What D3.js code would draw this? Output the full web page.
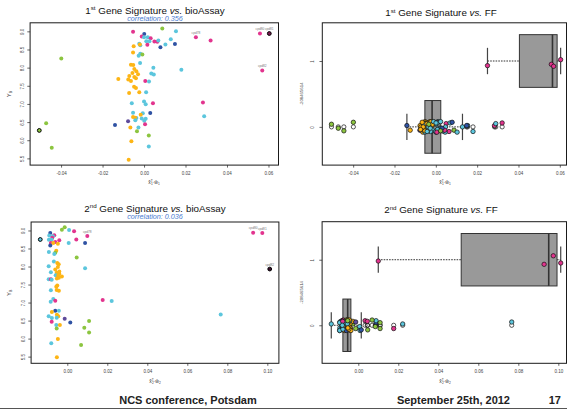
<!DOCTYPE html>
<html><head><meta charset="utf-8">
<script src="https://cdn.jsdelivr.net/npm/d3@7"></script>
<style>body{margin:0;background:#fff}svg{display:block}</style>
</head><body>
<svg id="c" width="567" height="409"></svg>
<script>
// ---------------- DATA ----------------
const bioAssay1 = [8.99,9.08,9.00,8.93,8.86,8.84,8.84,8.81,8.78,8.73,8.73,8.72,8.71,8.75,8.63,8.65,8.64,8.56,8.59,8.66,8.62,8.64,8.42,8.38,8.36,8.33,8.13,8.08,8.07,8.00,7.96,7.90,7.85,7.84,7.81,7.82,7.77,7.74,7.94,7.71,7.69,7.67,7.63,7.63,7.62,7.47,7.44,7.30,7.32,7.32,7.02,7.07,6.99,7.02,7.04,6.76,6.74,6.75,6.70,6.64,6.61,6.60,6.59,6.62,6.55,6.54,6.52,6.42,6.44,6.35,6.35,6.25,6.13,5.97,5.83,5.46,6.66,8.84,8.75,8.94,8.94,7.92,8.25,6.47,6.27,5.79];
const sig1Score = [-0.0053,0.0088,0.0154,0.0001,-0.0011,0.0018,0.0000,0.0032,0.0129,0.0011,0.0026,0.0050,0.0064,0.0069,0.0016,0.0149,0.0103,0.0079,-0.0050,-0.0023,-0.0018,-0.0020,-0.0053,-0.0018,-0.0008,-0.0026,-0.0019,-0.0063,-0.0052,0.0045,-0.0047,-0.0037,-0.0056,0.0035,0.0047,-0.0029,-0.0071,-0.0047,0.0180,-0.0039,-0.0124,-0.0076,-0.0063,0.0006,0.0024,-0.0048,-0.0039,-0.0072,-0.0023,0.0010,-0.0059,0.0000,0.0008,0.0043,0.0284,-0.0053,-0.0006,0.0030,-0.0016,-0.0053,-0.0037,-0.0011,0.0008,-0.0043,-0.0042,0.0001,-0.0077,-0.0140,0.0005,-0.0066,-0.0027,-0.0034,0.0023,-0.0061,0.0023,-0.0074,0.0290,0.0250,0.0321,0.0559,0.0604,0.0570,-0.0399,-0.0472,-0.0505,-0.0445];
const sig1Class = ["M","G","C","B","M","C","C","M","C","C","C","M","M","C","M","B","C","B","O","C","C","O","O","C","G","C","C","O","O","C","O","O","O","C","C","O","O","O","C","O","O","O","O","M","C","O","O","O","O","C","C","C","C","M","M","C","C","B","O","O","C","C","C","O","C","C","P","B","M","O","C","G","G","O","C","O","C","M","M","M","M","M","G","G","G","G"];
const sig1FF = sig1Score.map((_, i) => [77,79,80,81].includes(i) ? 1 : 0);
const sig1LabelIdx = [77,79,80,81];
const sig1LabelText = ["cpd78","cpd80","cpd81","cpd82"];
const sig1OutlineIdx = [80,84];
const sig1OutlineFill = ["#7A1850","#8CC540"];

const bioAssay2 = [8.93,9.09,9.02,9.01,8.98,8.85,8.87,8.86,8.84,8.80,8.74,8.74,8.73,8.75,8.68,8.65,8.65,8.63,8.65,8.65,8.58,8.44,8.38,8.35,8.40,8.25,8.14,8.10,8.06,8.01,7.95,7.99,7.92,7.86,7.84,7.83,7.80,7.76,7.75,7.72,7.67,7.69,7.65,7.65,7.63,7.47,7.44,7.34,7.35,7.33,7.10,7.05,7.02,7.07,7.04,6.77,6.77,6.74,6.62,6.57,6.66,6.62,6.58,6.55,6.45,6.47,6.49,6.38,6.38,6.28,6.30,6.17,5.99,5.87,5.82,5.48,6.67,8.94,8.93,7.93,8.75];
const sig2Score = [-0.0085,-0.0013,-0.0027,0.0009,0.0034,0.0100,-0.0065,-0.0090,-0.0072,-0.0075,-0.0092,-0.0078,-0.0040,0.0045,-0.0060,-0.0082,-0.0070,-0.0047,0.0007,0.0089,-0.0085,-0.0055,-0.0060,-0.0065,-0.0092,0.0047,-0.0067,-0.0050,-0.0043,-0.0093,0.0089,-0.0047,-0.0060,-0.0040,-0.0082,-0.0053,-0.0040,-0.0058,-0.0045,-0.0027,-0.0052,-0.0042,-0.0093,-0.0082,-0.0078,-0.0050,-0.0055,-0.0082,-0.0053,-0.0042,-0.0070,-0.0060,-0.0083,0.0177,0.0222,-0.0060,-0.0042,-0.0077,-0.0093,-0.0077,-0.0052,-0.0045,-0.0053,-0.0013,0.0015,-0.0078,0.0109,-0.0055,-0.0037,-0.0053,0.0085,0.0109,-0.0047,-0.0080,0.0069,-0.0052,0.0767,0.0929,0.0975,0.1012,-0.0135];
const sig2Class = ["B","G","G","C","M","M","M","C","C","M","C","C","M","M","M","M","O","O","C","B","B","O","G","C","C","G","C","O","O","C","C","O","O","O","C","O","O","C","O","O","O","O","C","M","C","O","O","C","O","O","C","M","C","M","C","B","C","O","C","C","O","O","C","P","B","M","G","C","O","G","G","G","O","C","G","O","C","M","M","M","C"];
const sig2FF = sig2Score.map((_, i) => [5,77,78,79].includes(i) ? 1 : 0);
const sig2LabelIdx = [5,77,78,79];
const sig2LabelText = ["cpd78","cpd80","cpd81","cpd82"];
const sig2OutlineIdx = [79,80];
const sig2OutlineFill = ["#3A0F2C","#5CC6DD"];

const corr1 = "correlation: 0.356";
const corr2 = "correlation: 0.036";
const sig1Ticks = [-0.04,-0.02,0,0.02,0.04,0.06];
const sig1TickLabels = ["-0.04","-0.02","0.00","0.02","0.04","0.06"];
const sig2Ticks = [0,0.02,0.04,0.06,0.08,0.10];
const sig2TickLabels = ["0.00","0.02","0.04","0.06","0.08","0.10"];
const yTicks = [5.5,6.0,6.5,7.0,7.5,8.0,8.5,9.0];
const yTickLabels = ["5.5","6.0","6.5","7.0","7.5","8.0","8.5","9.0"];
const ffTicks = [0,1];
const ffTickLabels = ["0","1"];
const ffLabel = "-208465614";

// ---------------- STYLE ----------------
const FONT = "'Liberation Sans', Arial, Helvetica, sans-serif";
const colorMap = {O:"#FDB515", C:"#5CC6DD", M:"#E2348E", B:"#2F52A3", G:"#8CC540", P:"#5F4B9B"};
const jitterPattern = [0.06,-0.05,0.02,-0.08,0.07,-0.02,0.04,-0.06,0.0,0.08,-0.04,0.05,-0.07];
const svg = d3.select("#c");

const P1 = {x0:30.1, x1:278.5, y0:22.8, y1:165.1, boxR:278.5};
const P2 = {x0:322.3, x1:569.8, y0:22.8, y1:165.1, boxR:566.5};
const P3 = {x0:31.1, x1:278.9, y0:222, y1:363.3, boxR:278.9};
const P4 = {x0:322.1, x1:569.9, y0:221.7, y1:363.3, boxR:566.5};

function padExt(v){ const e = d3.extent(v); const d=(e[1]-e[0])*0.04; return [e[0]-d, e[1]+d]; }

function drawTitle(cx, y, num, sup, target){
  const t = svg.append("text").attr("x",cx).attr("y",y).attr("text-anchor","middle")
    .attr("font-family",FONT).attr("font-size",9.8).attr("fill","#111");
  t.append("tspan").text(num);
  t.append("tspan").attr("font-size",6.2).attr("dy",-3.5).text(sup);
  t.append("tspan").attr("dy",3.5).text(" Gene Signature ");
  t.append("tspan").attr("font-style","italic").text("vs.");
  t.append("tspan").text(" " + target);
}
function drawCorr(cx, y, txt){
  svg.append("text").attr("x",cx).attr("y",y).attr("text-anchor","middle").attr("font-family",FONT)
    .attr("font-size",7.2).attr("font-style","italic").attr("fill","#4A7BD0").text(txt);
}
function drawXLabel(cx, y, k){
  const t = svg.append("text").attr("x",cx).attr("y",y).attr("text-anchor","middle")
    .attr("font-family",FONT).attr("font-size",5).attr("fill","#333");
  t.append("tspan").text("x\u0302");
  t.append("tspan").attr("font-size",3.2).attr("dy",-1.8).text("T");
  t.append("tspan").attr("font-size",3.2).attr("dx",-1.8).attr("dy",3.2).text(k);
  t.append("tspan").attr("dy",-1.4).text("\u00B7\u0175");
  t.append("tspan").attr("font-size",3.2).attr("dy",1.2).text(k);
}
function frame(p){
  svg.append("rect").attr("x",p.x0).attr("y",p.y0).attr("width",p.boxR-p.x0).attr("height",p.y1-p.y0)
    .attr("fill","none").attr("stroke","#1a1a1a").attr("stroke-width",1);
}
function xAxis(p, x, ticks, labels){
  const g = svg.append("g").attr("transform",`translate(0,${p.y1})`)
    .call(d3.axisBottom(x).tickValues(ticks).tickFormat((d,i)=>labels[i]).tickSize(2.5).tickPadding(4.2));
  g.select(".domain").remove();
  g.selectAll("line").attr("stroke","#222").attr("stroke-width",0.7);
  g.selectAll("text").attr("font-family",FONT).attr("font-size",4.5).attr("fill","#444");
}
function yAxis(p, y, ticks, labels, off){
  const g = svg.append("g").attr("transform",`translate(${p.x0},0)`)
    .call(d3.axisLeft(y).tickValues(ticks).tickFormat((d,i)=>labels[i]).tickSize(2.8));
  g.select(".domain").remove();
  g.selectAll("line").attr("stroke","#222").attr("stroke-width",0.7);
  g.selectAll("text").attr("font-family",FONT).attr("font-size",4.5).attr("fill","#444")
    .attr("transform","rotate(-90)").attr("x",0).attr("y",-off).attr("dy",0).attr("text-anchor","middle");
}

function scatter(p, xs, ys, cls, labelIdx, labelText, outlineIdx, outlineFill, xTicks, xLabels){
  const x = d3.scaleLinear().domain(padExt(xs)).range([p.x0, p.x1]);
  const y = d3.scaleLinear().domain(padExt(bioAssay1.concat(bioAssay2))).range([p.y1, p.y0]);
  frame(p);
  xAxis(p, x, xTicks, xLabels);
  yAxis(p, y, yTicks, yTickLabels, 5.8);
  const idx = d3.range(xs.length);
  svg.append("g").selectAll("circle").data(idx.filter(i=>!outlineIdx.includes(i))).join("circle")
    .attr("cx",i=>x(xs[i])).attr("cy",i=>y(ys[i])).attr("r",2).attr("fill",i=>colorMap[cls[i]]);
  svg.append("g").selectAll("circle").data(outlineIdx).join("circle")
    .attr("cx",i=>x(xs[i])).attr("cy",i=>y(ys[i])).attr("r",1.9).attr("fill",(d,k)=>outlineFill[k])
    .attr("stroke","#000").attr("stroke-width",1);
  svg.append("g").selectAll("text").data(labelIdx).join("text")
    .attr("x",i=>x(xs[i])).attr("y",i=>y(ys[i])-3.3).attr("text-anchor","middle")
    .attr("font-family",FONT).attr("font-size",3.2).attr("fill","#777").text((d,k)=>labelText[k]);
  const yl = svg.append("text").attr("transform",`translate(11,${(p.y0+p.y1)/2}) rotate(-90)`)
    .attr("text-anchor","middle").attr("font-family",FONT).attr("font-size",5.5).attr("fill","#333");
  yl.append("tspan").text("Y");
  yl.append("tspan").attr("font-size",3.6).attr("dy",1.4).text("B");
}

function fivenum(v){
  const s = v.slice().sort(d3.ascending), n = s.length;
  const n4 = Math.floor((n+3)/2)/2;
  const d = [1, n4, (n+1)/2, n+1-n4, n];
  return d.map(k => 0.5*(s[Math.floor(k)-1] + s[Math.ceil(k)-1]));
}

function boxpanel(p, xs, groups, cls, xTicks, xLabels){
  const x = d3.scaleLinear().domain(padExt(xs)).range([p.x0, p.x1]);
  const y = d3.scaleLinear().domain([-0.58, 1.58]).range([p.y1, p.y0]);
  frame(p);
  xAxis(p, x, xTicks, xLabels);
  yAxis(p, y, ffTicks, ffTickLabels, 8.2);
  svg.append("text").attr("transform",`translate(${p.x0-19},${(p.y0+p.y1)/2}) rotate(-90)`)
    .attr("text-anchor","middle").attr("font-family",FONT).attr("font-size",4.3).attr("fill","#444").text(ffLabel);
  const gB = svg.append("g");
  [0,1].forEach(g => {
    const v = xs.filter((d,i)=>groups[i]===g).sort(d3.ascending);
    const f = fivenum(v);
    const iqr = f[3]-f[1];
    const lo = d3.min(v.filter(d => d >= f[1]-1.5*iqr));
    const hi = d3.max(v.filter(d => d <= f[3]+1.5*iqr));
    const outl = v.filter(d => d < lo || d > hi);
    const cy = y(g);
    gB.append("line").attr("x1",x(lo)).attr("x2",x(f[1])).attr("y1",cy).attr("y2",cy)
      .attr("stroke","#000").attr("stroke-width",0.8).attr("stroke-dasharray","1.6,1.1");
    gB.append("line").attr("x1",x(f[3])).attr("x2",x(hi)).attr("y1",cy).attr("y2",cy)
      .attr("stroke","#000").attr("stroke-width",0.8).attr("stroke-dasharray","1.6,1.1");
    [lo,hi].forEach(w => gB.append("line").attr("x1",x(w)).attr("x2",x(w)).attr("y1",y(g-0.2)).attr("y2",y(g+0.2))
      .attr("stroke","#444").attr("stroke-width",1.2));
    gB.append("rect").attr("x",x(f[1])).attr("width",x(f[3])-x(f[1])).attr("y",y(g+0.4)).attr("height",y(g-0.4)-y(g+0.4))
      .attr("fill","#999999").attr("stroke","#333").attr("stroke-width",1);
    gB.append("line").attr("x1",x(f[2])).attr("x2",x(f[2])).attr("y1",y(g+0.4)).attr("y2",y(g-0.4))
      .attr("stroke","#333").attr("stroke-width",1.6);
    gB.selectAll(null).data(outl).join("circle").attr("cx",d=>x(d)).attr("cy",cy).attr("r",2.1)
      .attr("fill","none").attr("stroke","#111").attr("stroke-width",0.7);
  });
  const idx = d3.range(xs.length);
  svg.append("g").selectAll("circle").data(idx).join("circle")
    .attr("cx",i=>x(xs[i])).attr("cy",i=>y(groups[i] + jitterPattern[i % jitterPattern.length]))
    .attr("r",2.2).attr("fill",i=>colorMap[cls[i]]).attr("stroke","#111").attr("stroke-width",0.7);
}

// ---------------- DRAW ----------------
scatter(P1, sig1Score, bioAssay1, sig1Class, sig1LabelIdx, sig1LabelText, sig1OutlineIdx, sig1OutlineFill, sig1Ticks, sig1TickLabels);
drawTitle(155, 13.8, "1", "st", "bioAssay");
drawCorr(155, 21.4, corr1);
drawXLabel(154, 184, "1");

boxpanel(P2, sig1Score, sig1FF, sig1Class, sig1Ticks, sig1TickLabels);
drawTitle(441, 16, "1", "st", "FF");
drawXLabel(445, 184, "1");

scatter(P3, sig2Score, bioAssay2, sig2Class, sig2LabelIdx, sig2LabelText, sig2OutlineIdx, sig2OutlineFill, sig2Ticks, sig2TickLabels);
drawTitle(155, 211.6, "2", "nd", "bioAssay");
drawCorr(155, 219.3, corr2);
drawXLabel(155, 382.5, "2");

boxpanel(P4, sig2Score, sig2FF, sig2Class, sig2Ticks, sig2TickLabels);
drawTitle(441, 213, "2", "nd", "FF");
drawXLabel(445, 382.5, "2");

// footer
const footer = [["NCS conference, Potsdam",188,"middle"],["September 25th, 2012",510,"end"],["17",561,"end"]];
footer.forEach(f => svg.append("text").attr("x",f[1]).attr("y",404).attr("text-anchor",f[2]).attr("font-family",FONT)
  .attr("font-weight","bold").attr("font-size",11).attr("fill","#222").text(f[0]));
svg.append("line").attr("x1",0).attr("x2",567).attr("y1",408.5).attr("y2",408.5).attr("stroke","#555").attr("stroke-width",1);
</script>
</body></html>
